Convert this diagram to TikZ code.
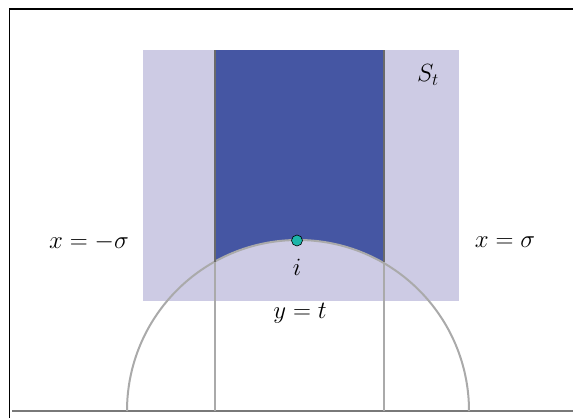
\documentclass[tikz,border=0pt]{standalone}
\usepackage{xcolor}
\usetikzlibrary{positioning}
\definecolor{stripfill}{HTML}{CDCBE4}
\definecolor{topfill}{HTML}{4556A3}
\definecolor{ptfill}{HTML}{1CB5A9}
\definecolor{linegrey}{HTML}{AAAAAA}
\definecolor{darkgrey}{HTML}{6A6A6A}
\begin{document}
\begin{tikzpicture}[x=1pt, y=1pt,
  lbl/.style={font=\fontsize{25}{30}\selectfont},
  geo/.style={draw=linegrey, line width=2pt}]
\useasboundingbox (0,0) rectangle (573,418);
% frame and axis
\draw[line width=1.2pt] (9.5,0) -- (9.5,409) -- (573,409);
\draw[darkgrey!90, line width=1.8pt] (12,7) -- (573,7);
% strip S_t and the part above the circle
\fill[stripfill] (143,117) rectangle (459,368);
\begin{scope}
\clip (215,117) rectangle (384,368);
\fill[topfill] (215,117) rectangle (384,368);
\fill[stripfill] (298,7) circle[radius=171];
\end{scope}
% circle and vertical lines
\draw[geo] (127,7) arc[start angle=180, end angle=0, radius=171];
\draw[geo] (215,7) -- (215,156);
\draw[geo] (384,7) -- (384,156);
\draw[darkgrey, line width=2.2pt] (215,156) -- (215,368);
\draw[darkgrey, line width=2.2pt] (384,156) -- (384,368);
% point i
\node[circle, draw, fill=ptfill, inner sep=0pt, minimum size=11pt, line width=0.6pt] (i) at (297,177.5) {};
\node[lbl, below=9pt of i] (ilabel) {$i$};
\node[lbl] (st) at (428,343) {$S_t$};
\node[lbl] (yt) at (300,105) {$y=t$};
\node[lbl] (xl) at (89,176) {$x=-\sigma$};
\node[lbl] (xr) at (505,176) {$x=\sigma$};
\end{tikzpicture}
\end{document}
